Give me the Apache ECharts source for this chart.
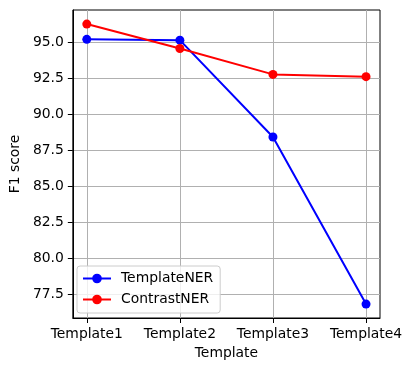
<!DOCTYPE html>
<html>
<head>
<meta charset="utf-8">
<script src="https://cdn.jsdelivr.net/npm/echarts@6/dist/echarts.min.js"></script>
<style>
html,body{margin:0;padding:0;background:#fff;}
#chart{width:412px;height:371px;}
</style>
</head>
<body>
<div id="chart"></div>
<script>
const categories = ['Template1', 'Template2', 'Template3', 'Template4'];
const templateNER = [95.22, 95.16, 88.42, 76.8];
const contrastNER = [96.28, 94.58, 92.78, 92.62];
const yTicks = [77.5, 80.0, 82.5, 85.0, 87.5, 90.0, 92.5, 95.0];
const xTicks = [0, 1, 2, 3];

const FONT = 'DejaVu Sans';
const FS = 13.9;

const chart = echarts.init(document.getElementById('chart'), null, {renderer: 'canvas'});

function toPairs(arr) { return arr.map((v, i) => [i, v]); }

chart.setOption({
  animation: false,
  backgroundColor: '#ffffff',
  textStyle: {fontFamily: FONT},
  grid: {
    left: 70, right: 32, top: 10, bottom: 53,
    show: true, borderColor: '#000', borderWidth: 1, backgroundColor: 'transparent'
  },
  legend: {
    orient: 'vertical',
    left: 77, top: 266,
    itemWidth: 28, itemHeight: 12, itemGap: 5,
    padding: [4.5, 7, 5.5, 5],
    backgroundColor: 'rgba(255,255,255,0.8)',
    borderColor: '#cccccc', borderWidth: 1, borderRadius: 3,
    textStyle: {fontFamily: FONT, fontSize: FS, color: '#000', padding: [0, 0, 0, 5], lineHeight: 16},
    data: ['TemplateNER', 'ContrastNER']
  },
  xAxis: {
    type: 'value',
    min: -0.15, max: 3.15,
    name: 'Template',
    nameLocation: 'middle',
    nameGap: 28,
    nameTextStyle: {fontFamily: FONT, fontSize: FS, color: '#000'},
    axisLine: {show: true, onZero: false, lineStyle: {color: '#000', width: 1}},
    axisTick: {show: true, length: 5, inside: false, customValues: xTicks, lineStyle: {color: '#000', width: 1}},
    axisLabel: {
      show: true, margin: 9, customValues: xTicks,
      fontFamily: FONT, fontSize: FS, color: '#000',
      formatter: v => categories[Math.round(v)] || ''
    },
    splitLine: {show: true, lineStyle: {color: '#b0b0b0', width: 1}}
  },
  yAxis: {
    type: 'value',
    min: 75.83, max: 97.26,
    name: 'F1 score',
    nameLocation: 'middle',
    nameGap: 48,
    nameTextStyle: {fontFamily: FONT, fontSize: FS, color: '#000'},
    axisLine: {show: true, onZero: false, lineStyle: {color: '#000', width: 1}},
    axisTick: {show: true, length: 5, inside: false, customValues: yTicks, lineStyle: {color: '#000', width: 1}},
    axisLabel: {
      show: true, margin: 9, customValues: yTicks,
      fontFamily: FONT, fontSize: FS, color: '#000',
      formatter: v => v.toFixed(1)
    },
    splitLine: {show: true, lineStyle: {color: '#b0b0b0', width: 1}}
  },
  series: [
    {
      name: 'TemplateNER', type: 'line',
      data: toPairs(templateNER),
      symbol: 'circle', symbolSize: 9,
      itemStyle: {color: '#0000ff'},
      lineStyle: {color: '#0000ff', width: 2},
      z: 3
    },
    {
      name: 'ContrastNER', type: 'line',
      data: toPairs(contrastNER),
      symbol: 'circle', symbolSize: 9,
      itemStyle: {color: '#ff0000'},
      lineStyle: {color: '#ff0000', width: 2},
      z: 4
    }
  ]
});
</script>
</body>
</html>
